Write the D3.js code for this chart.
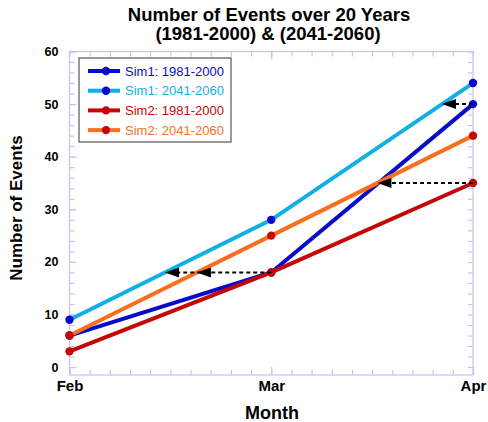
<!DOCTYPE html>
<html>
<head>
<meta charset="utf-8">
<script src="https://cdn.jsdelivr.net/npm/d3@7"></script>
<style>
  body { margin: 0; background: #fff; }
  text { font-family: "Liberation Sans", Arial, sans-serif; }
</style>
</head>
<body>
<div id="chart"></div>
<script>
// month positions 0 = Feb, 1 = Mar, 2 = Apr
const months = ["Feb", "Mar", "Apr"];
const seriesNames = ["Sim1: 1981-2000", "Sim1: 2041-2060", "Sim2: 1981-2000", "Sim2: 2041-2060"];
const sim1Past = [6, 18, 50];
const sim1Future = [9, 28, 54];
const sim2Past = [3, 18, 35];
const sim2Future = [6, 25, 44];
const lineColors = ["#0a0acc", "#10b0e6", "#c40808", "#f8701c"];
const markerColors = ["#0a0acc", "#0a0acc", "#c40808", "#c40808"];
const yTicks = [0, 10, 20, 30, 40, 50, 60];

const allSeries = [sim1Past, sim1Future, sim2Past, sim2Future];

// arrows: from series point at month index, pointing left to where target series reach same value
const arrows = [
  { from: 2, at: 1, targets: [3, 1] },
  { from: 2, at: 2, targets: [3] },
  { from: 0, at: 2, targets: [1] }
];

const W = 488, H = 422;
const svg = d3.select("#chart").append("svg")
  .attr("width", W).attr("height", H);

const x = d3.scaleLinear().domain([0, 2]).range([69.5, 473]);
const y = d3.scaleLinear().domain([-1.5, 60]).range([375, 51.5]);
const frameCol = "#c4c4f2";

// frame
svg.append("rect")
  .attr("x", x(0)).attr("y", y(60))
  .attr("width", x(2) - x(0)).attr("height", y(-1.5) - y(60))
  .attr("fill", "none").attr("stroke", frameCol).attr("stroke-width", 1.2);

const minorX = d3.range(0, 21).map(d => d / 10);
const minorY = d3.range(0, 31).map(d => d * 2);

function styleAxis(g) {
  g.select(".domain").remove();
  g.selectAll(".tick line").attr("stroke", frameCol).attr("stroke-width", 1.2);
}

// bottom ticks
svg.append("g").attr("transform", `translate(0,${y(-1.5)})`)
  .call(d3.axisBottom(x).tickValues(minorX).tickSize(-5).tickFormat(""))
  .call(styleAxis);
svg.append("g").attr("transform", `translate(0,${y(-1.5)})`)
  .call(d3.axisBottom(x).tickValues([0, 1, 2]).tickSize(-8).tickPadding(5)
    .tickFormat(d => months[d]))
  .call(styleAxis)
  .selectAll("text").attr("fill", "#000").style("font-size", "15px").style("font-weight", "bold");
// top ticks
svg.append("g").attr("transform", `translate(0,${y(60)})`)
  .call(d3.axisTop(x).tickValues(minorX).tickSize(-5).tickFormat(""))
  .call(styleAxis);
svg.append("g").attr("transform", `translate(0,${y(60)})`)
  .call(d3.axisTop(x).tickValues([1]).tickSize(-8).tickFormat(""))
  .call(styleAxis);
// left ticks
svg.append("g").attr("transform", `translate(${x(0)},0)`)
  .call(d3.axisLeft(y).tickValues(minorY).tickSize(-5).tickFormat(""))
  .call(styleAxis);
svg.append("g").attr("transform", `translate(${x(0)},0)`)
  .call(d3.axisLeft(y).tickValues(yTicks).tickSize(-7).tickPadding(11))
  .call(styleAxis)
  .selectAll("text").attr("fill", "#000").style("font-size", "12.5px").style("font-weight", "bold");
// right ticks
svg.append("g").attr("transform", `translate(${x(2)},0)`)
  .call(d3.axisRight(y).tickValues(minorY).tickSize(-5).tickFormat(""))
  .call(styleAxis);

// lines
const line = d3.line().x((d, i) => x(i)).y(d => y(d));
allSeries.forEach((s, k) => {
  svg.append("path").datum(s)
    .attr("d", line).attr("fill", "none")
    .attr("stroke", lineColors[k]).attr("stroke-width", 4);
  svg.selectAll(null).data(s).join("circle")
    .attr("cx", (d, i) => x(i)).attr("cy", d => y(d)).attr("r", 4.2)
    .attr("fill", markerColors[k]);
});

// where a series reaches value v (month units)
function crossAt(s, v) {
  for (let i = 0; i < s.length - 1; i++) {
    if ((v - s[i]) * (v - s[i + 1]) <= 0 && s[i] !== s[i + 1]) {
      return i + (v - s[i]) / (s[i + 1] - s[i]);
    }
  }
  return 0;
}

arrows.forEach(a => {
  const v = allSeries[a.from][a.at];
  const tips = a.targets.map(t => crossAt(allSeries[t], v));
  const far = d3.min(tips);
  svg.append("line")
    .attr("x1", x(a.at)).attr("x2", x(far) + 6)
    .attr("y1", y(v)).attr("y2", y(v))
    .attr("stroke", "#000").attr("stroke-width", 2)
    .attr("stroke-dasharray", "4,3");
  tips.forEach(t => {
    const tx = x(t), ty = y(v);
    svg.append("path")
      .attr("d", `M${tx},${ty}L${tx + 14},${ty - 5}L${tx + 14},${ty + 5}Z`)
      .attr("fill", "#000");
  });
});

// legend
const lg = svg.append("g").attr("transform", "translate(79,58)");
lg.append("rect").attr("width", 152).attr("height", 84)
  .attr("fill", "#fff").attr("stroke", "#555").attr("stroke-width", 1.2);
seriesNames.forEach((name, k) => {
  const ry = 13 + k * 19.7;
  lg.append("line").attr("x1", 9).attr("x2", 41).attr("y1", ry).attr("y2", ry)
    .attr("stroke", lineColors[k]).attr("stroke-width", 4);
  lg.append("circle").attr("cx", 27).attr("cy", ry).attr("r", 4.2).attr("fill", markerColors[k]);
  lg.append("text").attr("x", 46).attr("y", ry).attr("dy", "0.36em")
    .attr("fill", lineColors[k]).style("font-size", "13px").text(name);
});

// titles
svg.append("text").attr("x", 269).attr("y", 20.5).attr("text-anchor", "middle")
  .style("font-size", "18.5px").style("font-weight", "bold")
  .text("Number of Events over 20 Years");
svg.append("text").attr("x", 268).attr("y", 40).attr("text-anchor", "middle")
  .style("font-size", "18.5px").style("font-weight", "bold")
  .text("(1981-2000) & (2041-2060)");
svg.append("text").attr("x", 272).attr("y", 419).attr("text-anchor", "middle")
  .style("font-size", "18px").style("font-weight", "bold").text("Month");
svg.append("text").attr("transform", "translate(22,208) rotate(-90)")
  .attr("text-anchor", "middle")
  .style("font-size", "17px").style("font-weight", "bold").text("Number of Events");
</script>
</body>
</html>
